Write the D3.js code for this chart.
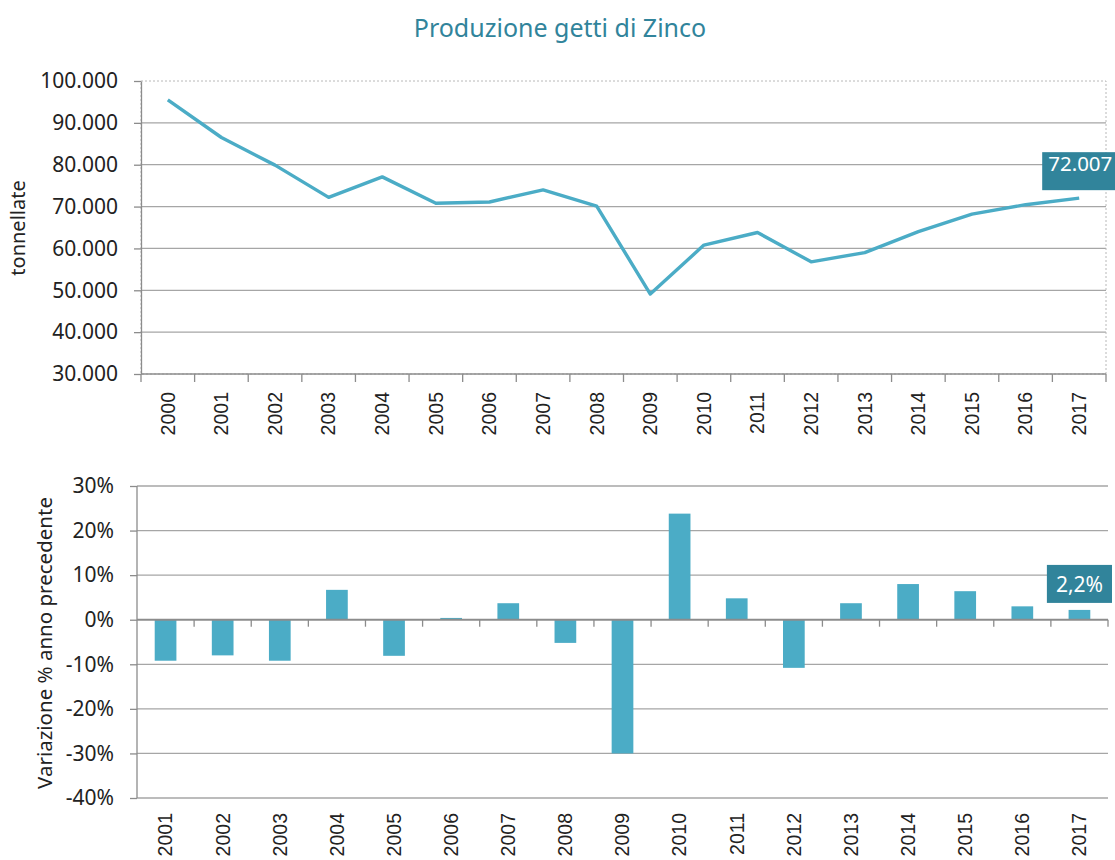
<!DOCTYPE html>
<html lang="it">
<head>
  <meta charset="UTF-8" />
  <title>Produzione getti di Zinco</title>
  <script src="https://d3js.org/d3.v7.min.js"></script>
  <style>
    body {
      margin: 0;
      padding: 0;
      background: #fff;
    }
    svg {
      display: block;
      font-family: "Noto Sans", sans-serif;
    }
    .grid line {
      stroke: #a6a6a6;
      stroke-width: 1.3px;
    }
    .asse path, .asse line {
      stroke: #8c8c8c;
      stroke-width: 1.3px;
    }
    .asse text {
      fill: #222;
    }
  </style>
</head>
<body>
  <svg width="1115" height="860"></svg>

  <script>
    // dati
    const anni = ["2000", "2001", "2002", "2003", "2004", "2005", "2006", "2007", "2008",
      "2009", "2010", "2011", "2012", "2013", "2014", "2015", "2016", "2017"];
    const produzione = [95500, 86500, 79900, 72200, 77100, 70800, 71100, 74000, 70100,
      49100, 60800, 63800, 56800, 59000, 64000, 68200, 70450, 72007];
    const anniVar = anni.slice(1);
    const variazione = [-9.2, -8.0, -9.2, 6.7, -8.1, 0.4, 3.7, -5.2, -30.0, 23.8,
      4.8, -10.8, 3.7, 8.0, 6.4, 3.0, 2.2];
    const tickTonnellate = [30000, 40000, 50000, 60000, 70000, 80000, 90000, 100000];
    const tickPerc = [-40, -30, -20, -10, 0, 10, 20, 30];

    const colore = "#4bacc6";
    const coloreEtichetta = "#31849b";

    const it = d3.formatLocale({
      decimal: ",",
      thousands: ".",
      grouping: [3],
      currency: ["", " €"],
      minus: "-"
    });
    const fmtTon = it.format(",.0f");
    const fmtPerc = (d) => it.format(".0f")(d) + "%";
    const fmtPerc1 = (d) => it.format(".1f")(d) + "%";

    const svg = d3.select("svg");

    // titolo
    svg.append("text")
      .attr("x", 560)
      .attr("y", 37)
      .attr("text-anchor", "middle")
      .attr("fill", coloreEtichetta)
      .style("font-size", "25px")
      .text("Produzione getti di Zinco");

    // ---------- grafico a linee ----------
    const x1 = d3.scaleBand().domain(anni).range([141, 1106]);
    const y1 = d3.scaleLinear().domain([30000, 100000]).range([374, 81]);

    svg.append("g")
      .attr("class", "grid")
      .selectAll("line")
      .data(tickTonnellate.filter((d) => d > 30000 && d < 100000))
      .enter()
      .append("line")
      .attr("x1", 141)
      .attr("x2", 1106)
      .attr("y1", (d) => y1(d))
      .attr("y2", (d) => y1(d));

    // bordo area (tratteggiato)
    svg.append("rect")
      .attr("x", 141)
      .attr("y", y1(100000))
      .attr("width", 1106 - 141)
      .attr("height", y1(30000) - y1(100000))
      .attr("fill", "none")
      .attr("stroke", "#b8b8b8")
      .attr("stroke-width", 1)
      .attr("stroke-dasharray", "2,2");

    const assey1 = svg.append("g")
      .attr("class", "asse")
      .attr("transform", "translate(141,0)")
      .call(d3.axisLeft(y1).tickValues(tickTonnellate).tickFormat(fmtTon).tickSize(7).tickSizeOuter(0).tickPadding(16));
    assey1.attr("font-family", null).attr("font-size", null);
    assey1.selectAll("text").style("font-family", "'Noto Sans', sans-serif").style("font-size", "21px");

    // asse x: tacche tra le categorie
    const assex1 = svg.append("g").attr("class", "asse");
    assex1.append("line")
      .attr("x1", 141).attr("x2", 1106)
      .attr("y1", 374).attr("y2", 374);
    assex1.selectAll(".tacca")
      .data(anni.concat(["fine"]))
      .enter()
      .append("line")
      .attr("class", "tacca")
      .attr("x1", (d) => d === "fine" ? 1106 : x1(d))
      .attr("x2", (d) => d === "fine" ? 1106 : x1(d))
      .attr("y1", 374)
      .attr("y2", 382);
    assex1.selectAll(".etichetta")
      .data(anni)
      .enter()
      .append("text")
      .attr("class", "etichetta")
      .attr("transform", (d) => `translate(${x1(d) + x1.bandwidth() / 2},392) rotate(-90)`)
      .attr("text-anchor", "end")
      .attr("dy", "0.35em")
      .style("font-family", "'Liberation Sans', Arial, sans-serif")
      .style("font-size", "19.5px")
      .text((d) => d);

    const linea = d3.line()
      .x((d, i) => x1(anni[i]) + x1.bandwidth() / 2)
      .y((d) => y1(d));

    svg.append("path")
      .datum(produzione)
      .attr("d", linea)
      .attr("fill", "none")
      .attr("stroke", colore)
      .attr("stroke-width", 3.4)
      .attr("stroke-linejoin", "round");

    svg.append("text")
      .attr("transform", "translate(25,228) rotate(-90)")
      .attr("text-anchor", "middle")
      .attr("fill", "#222")
      .style("font-size", "20px")
      .text("tonnellate");

    // etichetta ultimo valore
    const ultimo = produzione.length - 1;
    const lx = x1(anni[ultimo]) + x1.bandwidth() / 2;
    const ly = y1(produzione[ultimo]);
    const etich1 = svg.append("g");
    const t1 = etich1.append("text")
      .attr("x", lx - 31)
      .attr("y", ly - 27)
      .attr("fill", "#fff")
      .style("font-size", "20.5px")
      .text(fmtTon(produzione[ultimo]));
    const w1 = t1.node().getComputedTextLength();
    etich1.insert("rect", "text")
      .attr("x", lx - 37)
      .attr("y", ly - 46)
      .attr("width", w1 + 12)
      .attr("height", 38)
      .attr("fill", coloreEtichetta);

    // ---------- grafico a barre ----------
    const x2 = d3.scaleBand().domain(anniVar).range([137, 1108]);
    const y2 = d3.scaleLinear().domain([-40, 30]).range([798, 486]);

    svg.append("g")
      .attr("class", "grid")
      .selectAll("line")
      .data(tickPerc.filter((d) => d !== 0))
      .enter()
      .append("line")
      .attr("x1", 137)
      .attr("x2", 1108)
      .attr("y1", (d) => y2(d))
      .attr("y2", (d) => y2(d));

    const assey2 = svg.append("g")
      .attr("class", "asse")
      .attr("transform", "translate(137,0)")
      .call(d3.axisLeft(y2).tickValues(tickPerc).tickFormat(fmtPerc).tickSize(7).tickSizeOuter(0).tickPadding(16));
    assey2.attr("font-family", null).attr("font-size", null);
    assey2.select(".domain").attr("d", `M0,${y2(30)}V${y2(-40)}`);
    assey2.selectAll("text").style("font-family", "'Noto Sans', sans-serif").style("font-size", "21px");

    const larghezza = x2.bandwidth() * 0.38;
    svg.append("g")
      .selectAll("rect")
      .data(variazione)
      .enter()
      .append("rect")
      .attr("x", (d, i) => x2(anniVar[i]) + (x2.bandwidth() - larghezza) / 2)
      .attr("y", (d) => y2(Math.max(0, d)))
      .attr("width", larghezza)
      .attr("height", (d) => Math.abs(y2(d) - y2(0)))
      .attr("fill", colore);

    const assex2 = svg.append("g").attr("class", "asse");
    assex2.append("line")
      .attr("x1", 137).attr("x2", 1108)
      .attr("y1", y2(0)).attr("y2", y2(0))
      .style("stroke-width", "2px");
    assex2.selectAll(".tacca")
      .data(anniVar.slice(1).concat(["fine"]))
      .enter()
      .append("line")
      .attr("class", "tacca")
      .attr("x1", (d) => d === "fine" ? 1108 : x2(d))
      .attr("x2", (d) => d === "fine" ? 1108 : x2(d))
      .attr("y1", y2(0))
      .attr("y2", y2(0) + 7);
    assex2.selectAll(".etichetta")
      .data(anniVar)
      .enter()
      .append("text")
      .attr("class", "etichetta")
      .attr("transform", (d) => `translate(${x2(d) + x2.bandwidth() / 2},813) rotate(-90)`)
      .attr("text-anchor", "end")
      .attr("dy", "0.35em")
      .style("font-family", "'Liberation Sans', Arial, sans-serif")
      .style("font-size", "19.5px")
      .text((d) => d);

    svg.append("text")
      .attr("transform", "translate(52,643) rotate(-90)")
      .attr("text-anchor", "middle")
      .attr("fill", "#222")
      .style("font-size", "20.5px")
      .text("Variazione % anno precedente");

    // etichetta ultima variazione
    const uv = variazione.length - 1;
    const bx = x2(anniVar[uv]) + x2.bandwidth() / 2;
    const by = y2(variazione[uv]);
    const etich2 = svg.append("g");
    const t2 = etich2.append("text")
      .attr("x", bx)
      .attr("y", by - 18)
      .attr("text-anchor", "middle")
      .attr("fill", "#fff")
      .style("font-size", "21px")
      .text(fmtPerc1(variazione[uv]));
    const w2 = t2.node().getComputedTextLength();
    etich2.insert("rect", "text")
      .attr("x", bx - w2 / 2 - 9)
      .attr("y", by - 45)
      .attr("width", w2 + 18)
      .attr("height", 38)
      .attr("fill", coloreEtichetta);
  </script>
</body>
</html>
